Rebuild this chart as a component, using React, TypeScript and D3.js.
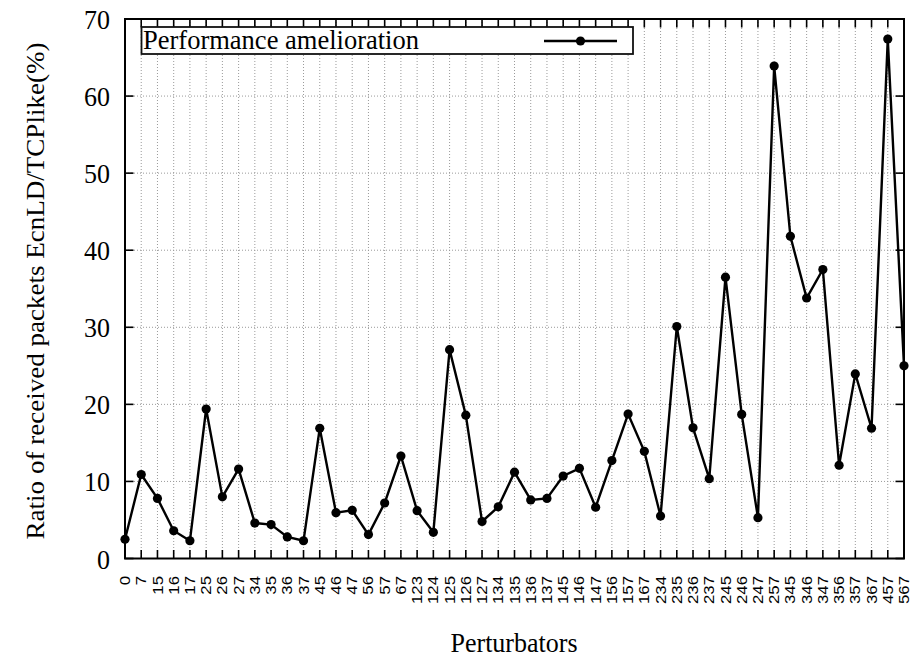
import React from "react";
import * as d3 from "d3";

// Perturbator sets (node combinations) along the x axis
const categories: string[] = [
  "0", "7", "15", "16", "17", "25", "26", "27", "34", "35", "36", "37",
  "45", "46", "47", "56", "57", "67", "123", "124", "125", "126", "127",
  "134", "135", "136", "137", "145", "146", "147", "156", "157", "167",
  "234", "235", "236", "237", "245", "246", "247", "257", "345", "346",
  "347", "356", "357", "367", "457", "567",
];

// Ratio of received packets EcnLD / TCPlike (%)
const amelioration: number[] = [
  2.5, 10.9, 7.8, 3.6, 2.3, 19.4, 8.0, 11.6, 4.6, 4.4, 2.8, 2.3,
  16.9, 5.95, 6.25, 3.1, 7.2, 13.3, 6.2, 3.4, 27.1, 18.6, 4.8,
  6.7, 11.2, 7.6, 7.8, 10.7, 11.7, 6.65, 12.7, 18.75, 13.9,
  5.5, 30.1, 16.95, 10.35, 36.5, 18.7, 5.3, 63.9, 41.8, 33.8,
  37.5, 12.1, 23.95, 16.9, 67.4, 25.0,
];

const yTicks: number[] = [0, 10, 20, 30, 40, 50, 60, 70];

const seriesName = "Performance amelioration";
const xTitle = "Perturbators";
const yTitle = "Ratio of received packets EcnLD/TCPlike(%)";

const W = 924;
const H = 658;
const M = { left: 125, right: 904, top: 19, bottom: 558.5 };

const serif = "'Liberation Serif', 'Times New Roman', serif";
const sans = "'Liberation Sans', Arial, sans-serif";

export default function App() {
  const x = d3
    .scalePoint<string>()
    .domain(categories)
    .range([M.left, M.right]);
  const y = d3.scaleLinear().domain([0, 70]).range([M.bottom, M.top]);

  const points = categories.map((c, i) => ({ c, v: amelioration[i] }));
  const line = d3
    .line<{ c: string; v: number }>()
    .x((d) => x(d.c) as number)
    .y((d) => y(d.v));

  const tickLen = 8.5;
  const grid = "#9a9a9a";

  // legend geometry
  const lg = { x0: 141.5, x1: 633, y0: 27, y1: 54 };
  const legendLineY = 41;

  return (
    <svg
      width={W}
      height={H}
      style={{ position: "absolute", left: 0, top: 0, background: "#fff" }}
    >
      <rect x={0} y={0} width={W} height={H} fill="#fff" />

      {/* dotted grid */}
      <g stroke={grid} strokeWidth={1} strokeDasharray="1,2">
        {categories.slice(1, -1).map((c) => (
          <line
            key={"gx" + c}
            x1={x(c)}
            x2={x(c)}
            y1={M.top}
            y2={M.bottom}
          />
        ))}
        {yTicks.slice(1, -1).map((t) => (
          <line
            key={"gy" + t}
            x1={M.left}
            x2={M.right}
            y1={y(t)}
            y2={y(t)}
          />
        ))}
      </g>

      {/* inward ticks */}
      <g stroke="#000" strokeWidth={1.6}>
        {categories.map((c) => (
          <g key={"tx" + c}>
            <line x1={x(c)} x2={x(c)} y1={M.bottom} y2={M.bottom - tickLen} />
            <line x1={x(c)} x2={x(c)} y1={M.top} y2={M.top + tickLen} />
          </g>
        ))}
        {yTicks.map((t) => (
          <g key={"ty" + t}>
            <line x1={M.left} x2={M.left + tickLen} y1={y(t)} y2={y(t)} />
            <line x1={M.right} x2={M.right - tickLen} y1={y(t)} y2={y(t)} />
          </g>
        ))}
      </g>

      {/* frame */}
      <rect
        x={M.left}
        y={M.top}
        width={M.right - M.left}
        height={M.bottom - M.top}
        fill="none"
        stroke="#000"
        strokeWidth={2}
      />

      {/* legend */}
      <rect
        x={lg.x0}
        y={lg.y0}
        width={lg.x1 - lg.x0}
        height={lg.y1 - lg.y0}
        fill="#fff"
        stroke="#111"
        strokeWidth={1.8}
      />
      <text
        transform="translate(143,49) scale(1.02,1.04)"
        fontFamily={serif}
        fontSize={26}
        fill="#000"
      >
        {seriesName}
      </text>
      <line
        x1={544}
        x2={617}
        y1={legendLineY}
        y2={legendLineY}
        stroke="#000"
        strokeWidth={2.4}
      />
      <circle cx={580.5} cy={legendLineY} r={4.6} fill="#000" />

      {/* data series */}
      <path
        d={line(points) || ""}
        fill="none"
        stroke="#000"
        strokeWidth={2.4}
        strokeLinejoin="miter"
      />
      {points.map((p) => (
        <circle
          key={"pt" + p.c}
          cx={x(p.c)}
          cy={y(p.v)}
          r={4.6}
          fill="#000"
        />
      ))}

      {/* y tick labels */}
      {yTicks.map((t) => (
        <text
          key={"yl" + t}
          transform={`translate(110,${y(t) + 10}) scale(1,1.04)`}
          textAnchor="end"
          fontFamily={serif}
          fontSize={26}
          fill="#000"
        >
          {t}
        </text>
      ))}

      {/* x tick labels, rotated */}
      {categories.map((c) => (
        <text
          key={"xl" + c}
          transform={`translate(${x(c)},576) rotate(-90) scale(1.2,1)`}
          textAnchor="end"
          dy="0.36em"
          fontFamily={sans}
          fontSize={14}
          fill="#000"
        >
          {c}
        </text>
      ))}

      {/* axis titles */}
      <text
        transform="translate(514,652) scale(1,1.04)"
        textAnchor="middle"
        fontFamily={serif}
        fontSize={26}
        fill="#000"
      >
        {xTitle}
      </text>
      <text
        transform={`translate(44,291) rotate(-90) scale(1.04,1)`}
        textAnchor="middle"
        fontFamily={serif}
        fontSize={26}
        fill="#000"
      >
        {yTitle}
      </text>
    </svg>
  );
}
